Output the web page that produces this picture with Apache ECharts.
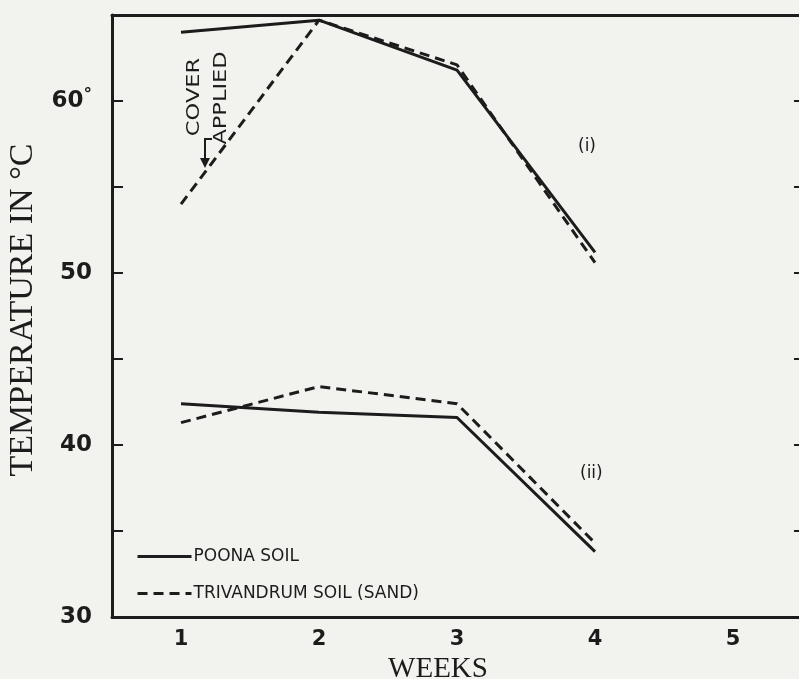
<!DOCTYPE html>
<html>
<head>
<meta charset="utf-8">
<script src="https://cdn.jsdelivr.net/npm/echarts@6/dist/echarts.min.js"></script>
<style>
  html, body { margin: 0; padding: 0; background: #f2f2ef; }
  #chart { width: 799px; height: 679px; }
</style>
</head>
<body>
<div id="chart"></div>
<script>
// weeks after start
var weeks = ['1', '2', '3', '4', '5'];

// curve (i): upper set
var poonaUpper = [64.0, 64.7, 61.8, 51.2];
var trivUpper = [54.0, 64.7, 62.1, 50.6];

// curve (ii): lower set
var poonaLower = [42.4, 41.9, 41.6, 33.8];
var trivLower = [41.3, 43.4, 42.4, 34.3];

var yTicks = [30, 40, 50, 60];

var ink = '#1c1c1c';
var sans = '"DejaVu Sans", sans-serif';
var serif = '"Liberation Serif", "DejaVu Serif", serif';

var dom = document.getElementById('chart');
var myChart = echarts.init(dom);

function lineSeries(name, data, dashed) {
    return {
        name: name,
        type: 'line',
        data: data,
        symbol: 'none',
        smooth: false,
        lineStyle: {
            color: ink,
            width: 3,
            type: dashed ? [10, 6] : 'solid'
        },
        itemStyle: { color: ink },
        z: 3
    };
}

option = {
    backgroundColor: '#f2f2ef',
    animation: false,
    grid: {
        left: 112,
        right: -3,
        top: 15,
        bottom: 62,
        outerBoundsMode: 'none'
    },
    legend: {
        orient: 'vertical',
        left: 131,
        top: 543,
        itemWidth: 54,
        itemHeight: 14,
        itemGap: 20,
        data: ['POONA SOIL', 'TRIVANDRUM SOIL (SAND)'],
        itemStyle: { opacity: 0 },
        lineStyle: { width: 3 },
        textStyle: {
            color: ink,
            fontFamily: sans,
            fontSize: 17,
            padding: [0, 0, 0, -3]
        }
    },
    xAxis: [
        {
            type: 'category',
            data: weeks,
            boundaryGap: true,
            name: 'WEEKS',
            nameLocation: 'middle',
            nameGap: 36,
            nameTextStyle: {
                color: ink,
                fontFamily: serif,
                fontSize: 29,
                padding: [0, 38, 0, 0]
            },
            axisLine: { lineStyle: { color: ink, width: 3 } },
            axisTick: { alignWithLabel: true, inside: true, length: 11, lineStyle: { color: ink, width: 2 } },
            axisLabel: {
                color: ink,
                fontFamily: sans,
                fontSize: 21,
                fontWeight: 'bold',
                margin: 12
            },
            splitLine: { show: false }
        },
        {
            type: 'category',
            data: weeks,
            position: 'top',
            boundaryGap: true,
            axisLine: { lineStyle: { color: ink, width: 3 } },
            axisTick: { alignWithLabel: true, inside: true, length: 8, lineStyle: { color: ink, width: 2 } },
            axisLabel: { show: false },
            splitLine: { show: false }
        }
    ],
    yAxis: [
        {
            type: 'value',
            min: 30,
            max: 65,
            interval: 5,
            name: 'TEMPERATURE IN °C',
            nameLocation: 'middle',
            nameGap: 72,
            nameTextStyle: {
                color: ink,
                fontFamily: serif,
                fontSize: 34,
                padding: [0, 0, 0, 12]
            },
            axisLine: { show: true, lineStyle: { color: ink, width: 3 } },
            axisTick: { show: true, inside: true, length: 11, lineStyle: { color: ink, width: 2 } },
            axisLabel: {
                color: ink,
                fontFamily: sans,
                fontSize: 23,
                fontWeight: 'bold',
                margin: 20,
                formatter: function (v) {
                    if (yTicks.indexOf(v) < 0) return '';
                    return v === 60 ? v + '{d|°}' : '' + v;
                },
                rich: {
                    d: {
                        fontFamily: sans,
                        fontSize: 17,
                        color: ink,
                        verticalAlign: 'top',
                        padding: [0, 0, 10, 0]
                    }
                }
            },
            splitLine: { show: false }
        },
        {
            type: 'value',
            min: 30,
            max: 65,
            interval: 5,
            position: 'right',
            axisLine: { show: true, lineStyle: { color: ink, width: 3 } },
            axisTick: { show: true, inside: true, length: 8, lineStyle: { color: ink, width: 2 } },
            axisLabel: { show: false },
            splitLine: { show: false }
        }
    ],
    series: [
        lineSeries('POONA SOIL', poonaUpper, false),
        lineSeries('TRIVANDRUM SOIL (SAND)', trivUpper, true),
        lineSeries('POONA SOIL', poonaLower, false),
        lineSeries('TRIVANDRUM SOIL (SAND)', trivLower, true)
    ],
    graphic: [
        {
            type: 'text',
            left: 578,
            top: 138,
            style: { text: '(i)', fill: ink, font: '17px ' + sans }
        },
        {
            type: 'text',
            left: 580,
            top: 465,
            style: { text: '(ii)', fill: ink, font: '17px ' + sans }
        },
        {
            type: 'text',
            x: 194,
            y: 97,
            rotation: Math.PI / 2,
            scaleX: 1.25,
            style: { text: 'COVER', fill: ink, font: '18px ' + sans, align: 'center', verticalAlign: 'middle' }
        },
        {
            type: 'text',
            x: 221,
            y: 98,
            rotation: Math.PI / 2,
            scaleX: 1.25,
            style: { text: 'APPLIED', fill: ink, font: '18px ' + sans, align: 'center', verticalAlign: 'middle' }
        },
        {
            type: 'polyline',
            shape: { points: [[212, 139], [205, 139], [205, 163]] },
            style: { stroke: ink, lineWidth: 2, fill: null }
        },
        {
            type: 'polygon',
            shape: { points: [[200, 158], [210, 158], [205, 168]] },
            style: { fill: ink }
        }
    ]
};

myChart.setOption(option, true);
</script>
</body>
</html>
